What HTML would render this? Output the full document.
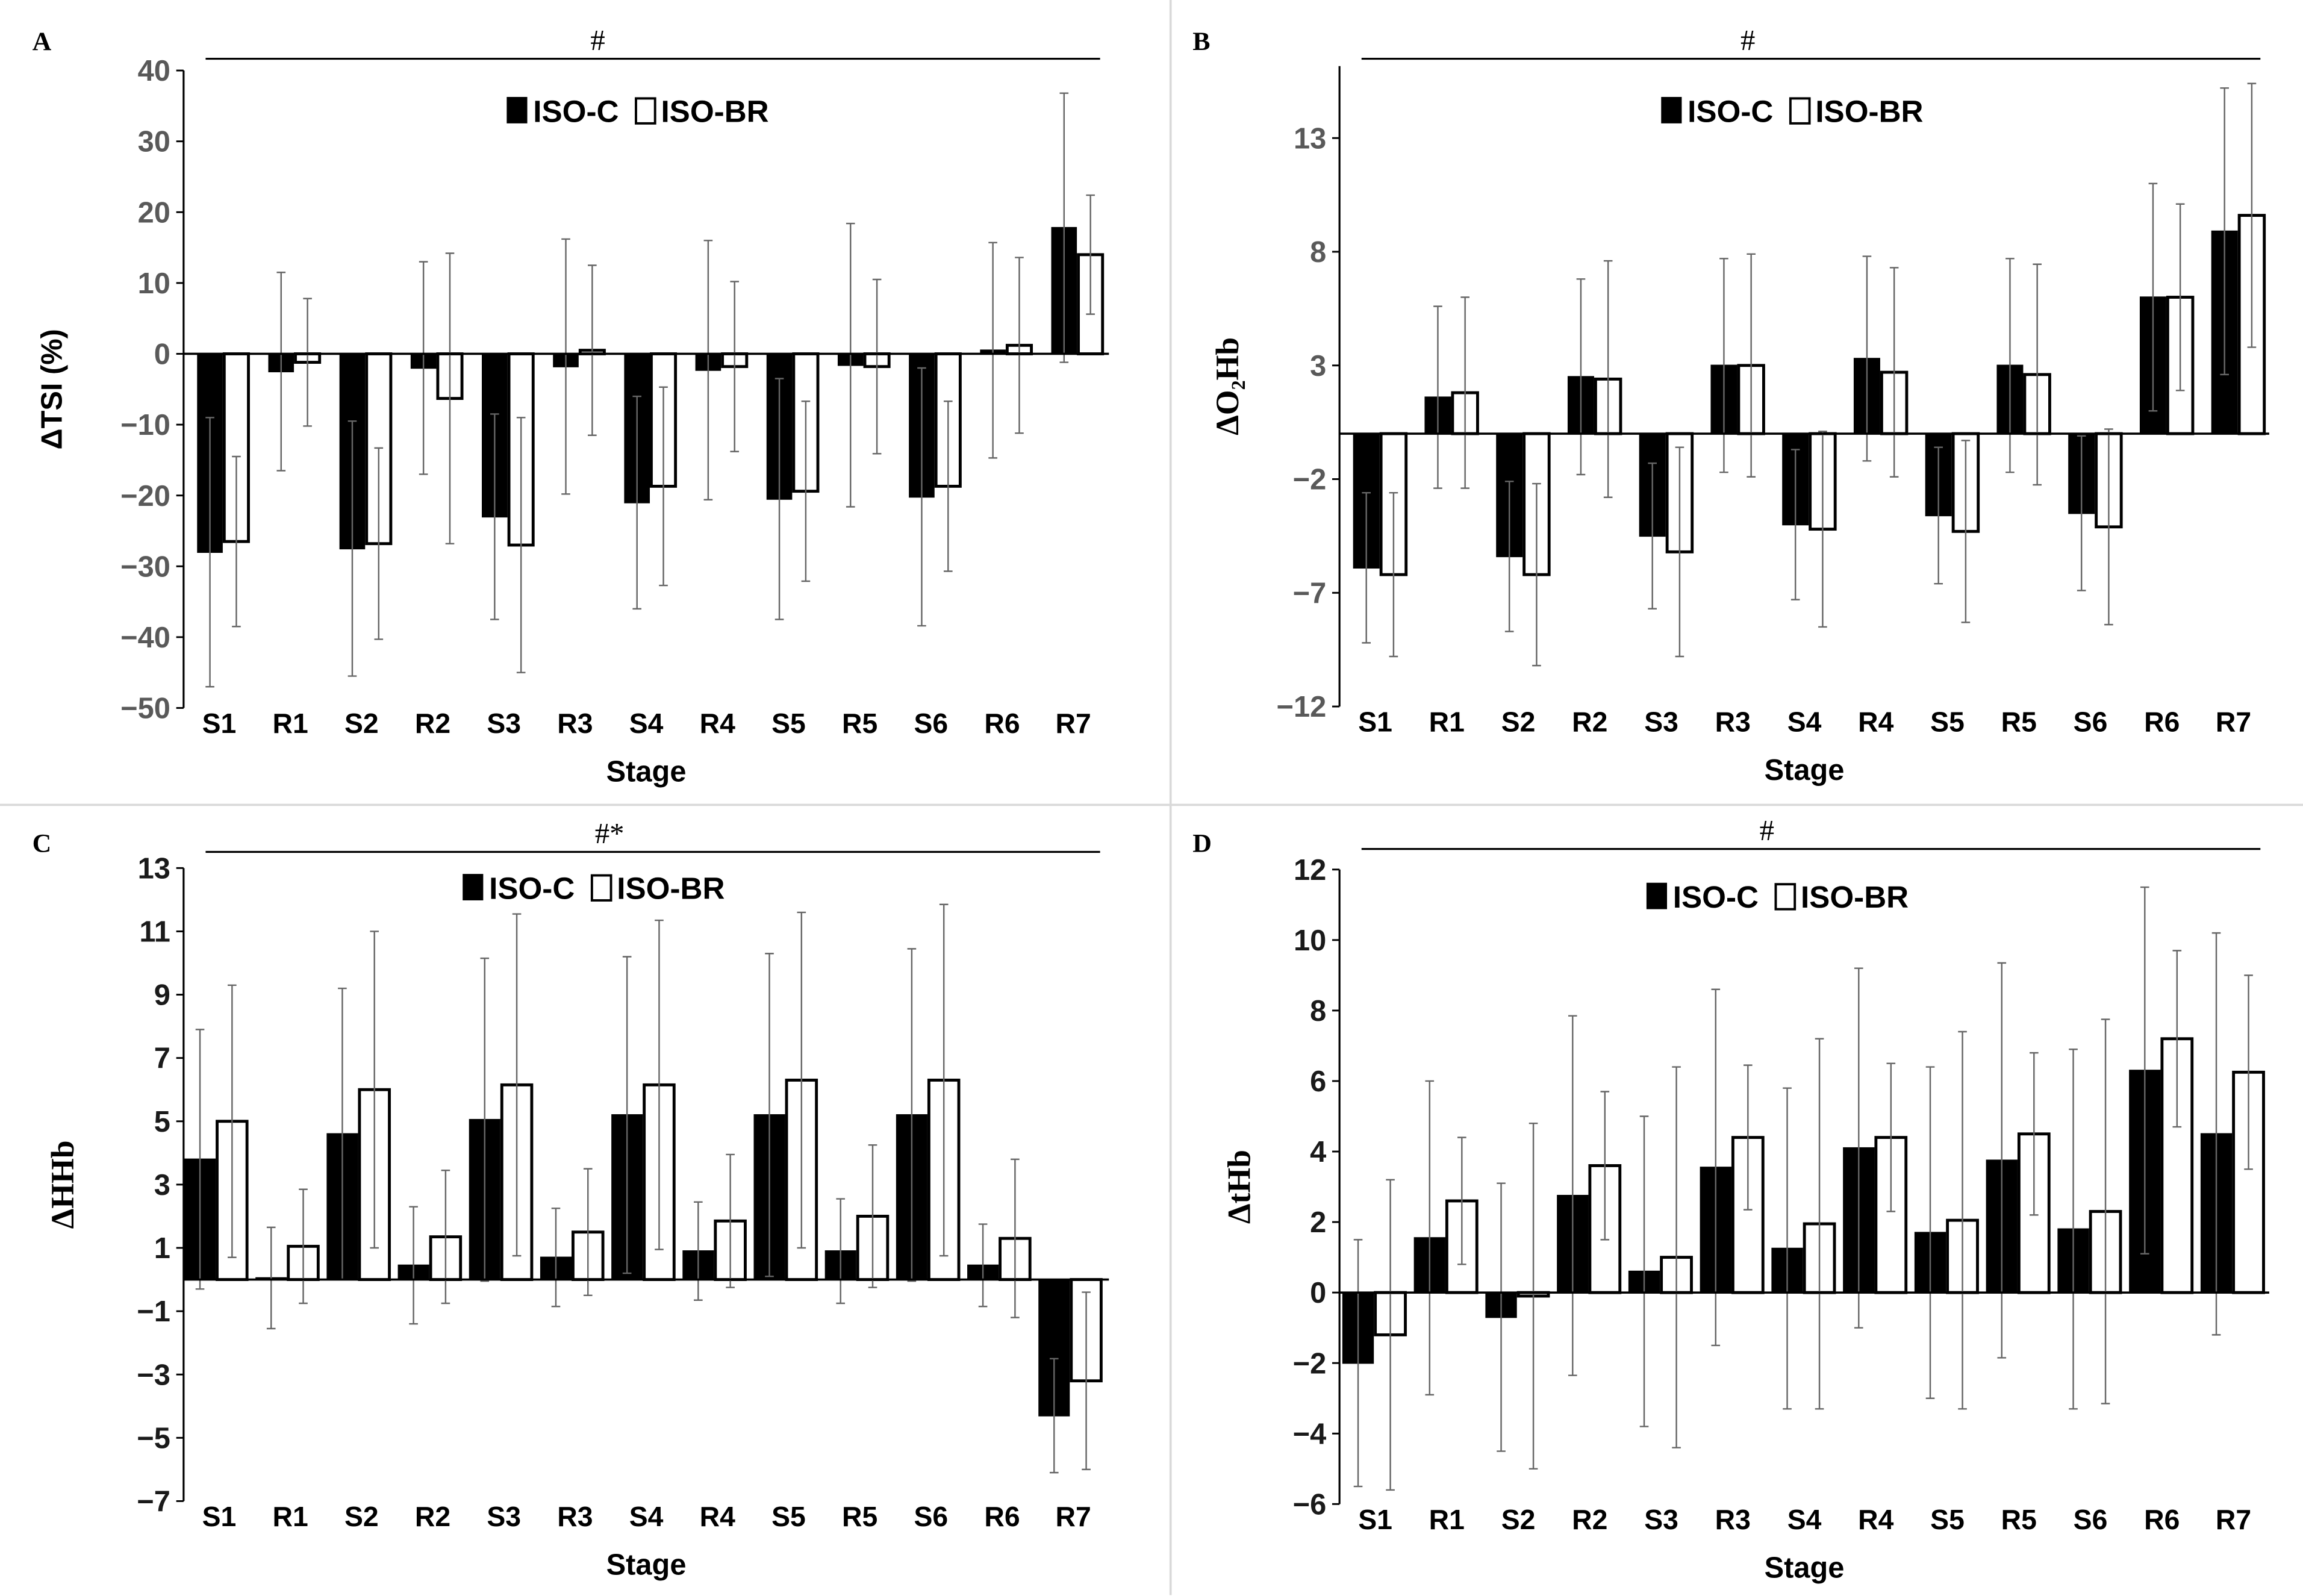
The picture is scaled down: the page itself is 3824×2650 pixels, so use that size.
<!DOCTYPE html>
<html><head><meta charset="utf-8"><style>
html,body{margin:0;padding:0;background:#fff;}
svg{display:block;}
</style></head><body>
<svg id="fig" width="3824" height="2650" viewBox="0 0 1568 1086.6" preserveAspectRatio="none" xmlns="http://www.w3.org/2000/svg" font-family="Liberation Sans, sans-serif">
<rect x="0" y="0" width="1568" height="1086.6" fill="#fff"/>
<line x1="797" y1="0" x2="797" y2="1086" stroke="#d9d9d9" stroke-width="1.5"/>
<line x1="0" y1="548" x2="1568" y2="548" stroke="#d9d9d9" stroke-width="1.5"/>
</svg>
<script>
const categories = ["S1","R1","S2","R2","S3","R3","S4","R4","S5","R5","S6","R6","R7"];
// Panel A: ΔTSI (%)
const aIsoC   = [-28,-2.5,-27.5,-2,-23,-1.8,-21,-2.3,-20.5,-1.6,-20.2,0.5,17.8];
const aIsoCsd = [19,14,18,15,14.5,18,15,18.3,17,20,18.2,15.2,19];
const aIsoBR  = [-26.5,-1.2,-26.8,-6.3,-27,0.5,-18.7,-1.8,-19.4,-1.8,-18.7,1.2,14];
const aIsoBRsd= [12,9,13.5,20.5,18,12,14,12,12.7,12.3,12,12.4,8.4];
const aTicks  = [40,30,20,10,0,-10,-20,-30,-40,-50];
// Panel B: ΔO2Hb
const bIsoC   = [-5.9,1.6,-5.4,2.5,-4.5,3.0,-4.0,3.3,-3.6,3.0,-3.5,6.0,8.9];
const bIsoCsd = [3.3,4,3.3,4.3,3.2,4.7,3.3,4.5,3,4.7,3.4,5,6.3];
const bIsoBR  = [-6.2,1.8,-6.2,2.4,-5.2,3.0,-4.2,2.7,-4.3,2.6,-4.1,6.0,9.6];
const bIsoBRsd= [3.6,4.2,4,5.2,4.6,4.9,4.3,4.6,4,4.85,4.3,4.1,5.8];
const bTicks  = [13,8,3,-2,-7,-12];
// Panel C: ΔHHb
const cIsoC   = [3.8,0.05,4.6,0.45,5.05,0.7,5.2,0.9,5.2,0.9,5.2,0.45,-4.3];
const cIsoCsd = [4.1,1.6,4.6,1.85,5.1,1.55,5,1.55,5.1,1.65,5.25,1.3,1.8];
const cIsoBR  = [5.0,1.05,6.0,1.35,6.15,1.5,6.15,1.85,6.3,2.0,6.3,1.3,-3.2];
const cIsoBRsd= [4.3,1.8,5,2.1,5.4,2,5.2,2.1,5.3,2.25,5.55,2.5,2.8];
const cTicks  = [13,11,9,7,5,3,1,-1,-3,-5,-7];
// Panel D: ΔtHb
const dIsoC   = [-2.0,1.55,-0.7,2.75,0.6,3.55,1.25,4.1,1.7,3.75,1.8,6.3,4.5];
const dIsoCsd = [3.5,4.45,3.8,5.1,4.4,5.05,4.55,5.1,4.7,5.6,5.1,5.2,5.7];
const dIsoBR  = [-1.2,2.6,-0.1,3.6,1.0,4.4,1.95,4.4,2.05,4.5,2.3,7.2,6.25];
const dIsoBRsd= [4.4,1.8,4.9,2.1,5.4,2.05,5.25,2.1,5.35,2.3,5.45,2.5,2.75];
const dTicks  = [12,10,8,6,4,2,0,-2,-4,-6];

const NS="http://www.w3.org/2000/svg";
const svg=document.getElementById('fig');
function mk(tag,attrs,parent){const e=document.createElementNS(NS,tag);for(const k in attrs)e.setAttribute(k,attrs[k]);(parent||svg).appendChild(e);return e;}
function txt(s,attrs,parent){const e=mk('text',attrs,parent);e.textContent=s;return e;}

function panel(p){
  const g=mk('g',{});
  
  
  const yMin=p.ticks[p.ticks.length-1];
  const y=v=>p.y0+(p.yTop-v)*(p.y1-p.y0)/(p.yTop-yMin);
  const cw=(p.xR-p.xL)/categories.length;
  const bw=cw*p.bwf;
  const zero=y(0);
  const L=txt(p.letter,{x:p.letterX,y:p.letterY,'font-size':18,'font-weight':'bold','font-family':'Liberation Serif, serif'},g);
  
  
  const sl=mk('line',{x1:p.xL+15,x2:p.xR-6,y1:p.sigY,y2:p.sigY,stroke:'#000','stroke-width':1.3},g);
  
  
  const st=txt(p.sig,{x:p.sigX,y:p.sigY-6,'font-size':20,'text-anchor':'middle','font-family':'Liberation Serif, serif'},g);
  
  
  const ya=mk('line',{x1:p.xL,x2:p.xL,y1:p.axisTop,y2:p.y1,stroke:'#000','stroke-width':1.3},g);
  
  
  p.ticks.forEach(t=>{
    const tl=mk('line',{x1:p.xL-5,x2:p.xL,y1:y(t),y2:y(t),stroke:'#000','stroke-width':1.2},g);
    
    
    const tt=txt(String(t).replace('-','\u2212'),{x:p.xL-9,y:y(t)+7,'font-size':20,'font-weight':'bold','text-anchor':'end',fill:p.tickColor},g);
    
    
  });
  categories.forEach((c,i)=>{
    const x0=p.xL+i*cw+cw*p.off;
    const vals=[[p.c[i],p.csd[i],'#000'],[p.b[i],p.bsd[i],'#fff']];
    vals.forEach((v,j)=>{
      const bx=x0+j*(bw+1.5);
      const top=Math.min(y(v[0]),zero),h=Math.abs(y(v[0])-zero);
      const r=mk('rect',{x:bx,y:top,width:bw,height:h,fill:v[2],stroke:'#000','stroke-width':j?2:1},g);
      
      
      const cx=bx+bw/2;
      const e=mk('path',{d:`M${cx},${y(v[0]+v[1])}V${y(v[0]-v[1])}M${cx-3},${y(v[0]+v[1])}h6M${cx-3},${y(v[0]-v[1])}h6`,stroke:'#666','stroke-width':1,fill:'none'},g);
      
      
    });
    const cl=txt(c,{x:p.xL+i*cw+cw*0.5,y:p.y1+17,'font-size':19,'font-weight':'bold','text-anchor':'middle'},g);
    
    
  });
  const xa=mk('line',{x1:p.xL,x2:p.xR,y1:zero,y2:zero,stroke:'#000','stroke-width':1.5},g);
  
  
  const xt=txt('Stage',{x:(p.xL+p.xR)/2,y:p.y1+50,'font-size':20,'font-weight':'bold','text-anchor':'middle'},g);
  
  
  const yt=txt(p.ylabel,{x:0,y:0,'font-size':p.ylSize,'font-weight':'bold','text-anchor':'middle','font-family':p.ylFont,transform:`translate(${p.ylX},${(p.axisTop+p.y1)/2}) rotate(-90)`},g);
  
  
  const lg=mk('g',{},g);
  
  
  const s1=mk('rect',{x:p.legX,y:p.legY-16,width:14,height:18,fill:'#000'},lg);
  
  
  const l1=txt('ISO-C',{x:p.legX+18,y:p.legY+1,'font-size':21,'font-weight':'bold'},lg);
  
  
  const s2=mk('rect',{x:p.legX+88,y:p.legY-15,width:13,height:17,fill:'#fff',stroke:'#000','stroke-width':1.6},lg);
  
  
  const l2=txt('ISO-BR',{x:p.legX+105,y:p.legY+1,'font-size':21,'font-weight':'bold'},lg);
  
  
}

panel({name:'panel-a-tsi',letter:'A',letterX:22,letterY:34,sig:'#',sigX:407,sigY:40,
  xL:125,xR:755,axisTop:48,y0:48,y1:482,yTop:40,ticks:aTicks,off:0.2,bwf:0.34,tickColor:'#595959',
  c:aIsoC,csd:aIsoCsd,b:aIsoBR,bsd:aIsoBRsd,ylabel:'\u0394TSI  (%)',ylX:42,ylSize:20,ylFont:'Liberation Sans, sans-serif',legX:345,legY:82});
panel({name:'panel-b-o2hb',letter:'B',letterX:812,letterY:34,sig:'#',sigX:1190,sigY:40,
  xL:912,xR:1545,axisTop:45,y0:94,y1:481,yTop:13,ticks:bTicks,off:0.2,bwf:0.35,tickColor:'#595959',
  c:bIsoC,csd:bIsoCsd,b:bIsoBR,bsd:bIsoBRsd,ylabel:'\u0394O\u2082Hb',ylX:843,ylSize:22,ylFont:'Liberation Serif, serif',legX:1131,legY:82});
panel({name:'panel-c-hhb',letter:'C',letterX:22,letterY:580,sig:'#*',sigX:415,sigY:580,
  xL:125,xR:755,axisTop:591,y0:591,y1:1022,yTop:13,ticks:cTicks,off:0.02,bwf:0.42,tickColor:'#1a1a1a',
  c:cIsoC,csd:cIsoCsd,b:cIsoBR,bsd:cIsoBRsd,ylabel:'\u0394HHb',ylX:50,ylSize:22,ylFont:'Liberation Serif, serif',legX:315,legY:611});
panel({name:'panel-d-thb',letter:'D',letterX:812,letterY:580,sig:'#',sigX:1203,sigY:578,
  xL:912,xR:1545,axisTop:592,y0:592,y1:1024,yTop:12,ticks:dTicks,off:0.05,bwf:0.42,tickColor:'#1a1a1a',
  c:dIsoC,csd:dIsoCsd,b:dIsoBR,bsd:dIsoBRsd,ylabel:'\u0394tHb',ylX:851,ylSize:22,ylFont:'Liberation Serif, serif',legX:1121,legY:617});
</script>
</body></html>
